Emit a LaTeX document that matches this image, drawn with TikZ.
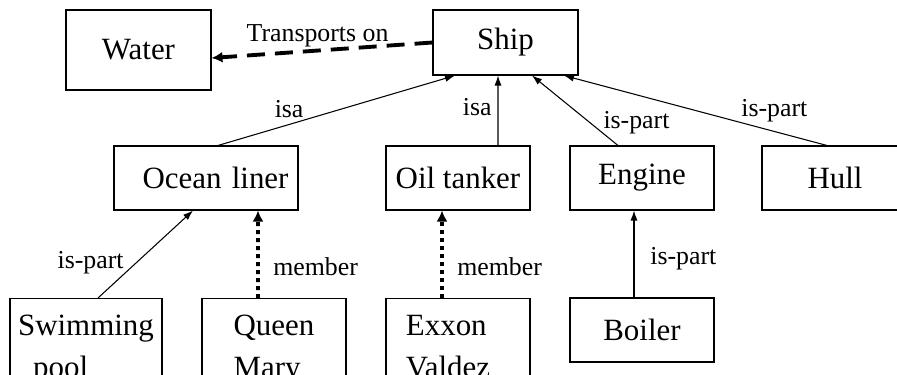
\documentclass[tikz,border=0pt]{standalone}
\usepackage{fontspec}
\setmainfont{Liberation Serif}
\usetikzlibrary{arrows.meta}

\begin{document}
\begin{tikzpicture}[x=0.02cm, y=-0.02cm,
	box/.style={draw, rectangle, line width=0.6pt, inner sep=0pt,
		font=\fontsize{17.6}{24}\selectfont},
	rowbox/.style={box, minimum width=2.88cm, minimum height=1.28cm},
	twoline/.style={box, anchor=north, align=left, inner ysep=0.33cm,
		minimum width=2.88cm},
	lbl/.style={font=\fontsize{14.7}{17}\selectfont},
	isarrow/.style={-{Latex[length=0.2cm, width=0.14cm]}, line width=0.6pt},
	memberarrow/.style={-{Latex[length=0.22cm, width=0.22cm]}, line width=2.2pt,
		dash pattern=on 0.08cm off 0.08cm},
	transarrow/.style={-{Latex[length=0.22cm, width=0.22cm]}, line width=2.2pt,
		dash pattern=on 0.36cm off 0.2cm}]

	\useasboundingbox (0,0) rectangle (897,375);

	% top row
	\node[box, minimum width=2.9cm, minimum height=1.6cm] (water) at (138.5,50) {Water};
	\node[box, minimum width=2.9cm, minimum height=1.3cm] (ship)  at (505.5,42.5) {Ship};

	% kinds and parts of a ship
	\node[rowbox, minimum width=3.68cm, text width=3.3cm, align=right]
		(liner)  at (206,178) {Ocean liner};
	\node[rowbox]                       (tanker) at (458,178) {Oil tanker};
	\node[rowbox]                       (engine) at (642,178) {Engine};
	\node[rowbox, minimum width=2.92cm] (hull)   at (835,178) {Hull};

	% bottom row
	\node[twoline, minimum width=3.04cm] (pool)  at (86,298)  {Swimming\\\hspace{0.3cm}pool};
	\node[twoline]                       (queen) at (274,298) {Queen\\Mary};
	\node[twoline]                       (exxon) at (458,298) {Exxon\\Valdez\hspace*{0.4cm}};
	\node[rowbox]                        (boiler) at (642,330) {Boiler};

	\draw[transarrow] (ship.west) --
		node[lbl, pos=0.52, above, yshift=-0.08cm] {Transports on} ([yshift=-0.16cm]water.east);

	\draw[isarrow] ([xshift=0.24cm]liner.north) --
		node[lbl, pos=0.3, above] {isa} ([xshift=-1.01cm]ship.south);
	\draw[isarrow] ([xshift=0.8cm]tanker.north) --
		node[lbl, pos=0.55, left] {isa} ([xshift=-0.15cm]ship.south);
	\draw[isarrow] ([xshift=-0.48cm]engine.north) --
		node[lbl, pos=0.33, right=0.15cm] {is-part} ([xshift=0.53cm]ship.south);
	\draw[isarrow] ([xshift=-0.16cm]hull.north) --
		node[lbl, pos=0.2, above, yshift=0.06cm] {is-part} ([xshift=1.17cm]ship.south);

	\draw[isarrow] ([xshift=0.24cm]pool.north) --
		node[lbl, pos=0.4, left=0.12cm] {is-part} ([xshift=-0.26cm]liner.south);
	\draw[memberarrow] ([xshift=-0.32cm]queen.north) --
		node[lbl, pos=0.36, right=0.15cm] {member} ([xshift=1.04cm]liner.south);
	\draw[memberarrow] ([xshift=-0.32cm]exxon.north) --
		node[lbl, pos=0.36, right=0.15cm] {member} ([xshift=-0.32cm]tanker.south);
	\draw[isarrow] ([xshift=-0.16cm]boiler.north) --
		node[lbl, pos=0.45, right=0.2cm] {is-part} ([xshift=-0.16cm]engine.south);
\end{tikzpicture}
\end{document}
